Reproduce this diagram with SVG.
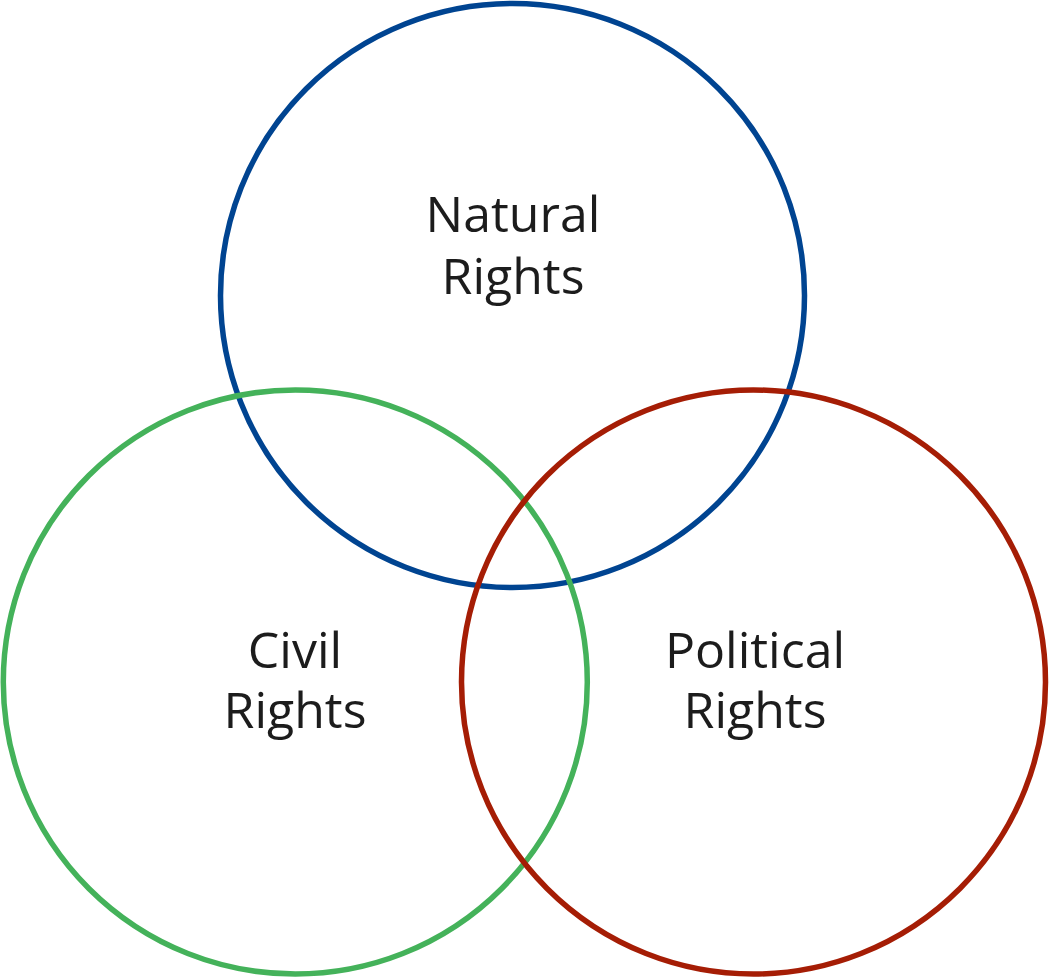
<svg xmlns="http://www.w3.org/2000/svg" width="1050" height="978" viewBox="0 0 1050 978">
<style>
.c{fill:none;stroke-width:5.5}
.t{font-family:"Open Sans","Noto Sans",sans-serif;font-size:50px;fill:#1c1c1c;text-anchor:middle}
</style>
<rect width="1050" height="978" fill="#fff"/>
<g id="natural">
<circle class="c" cx="512.5" cy="295.5" r="292" stroke="#004491"/>
<text class="t"><tspan x="513" y="232">Natural</tspan><tspan x="513" y="294">Rights</tspan></text>
</g>
<g id="civil">
<circle class="c" cx="295.3" cy="682" r="292" stroke="#44b25a"/>
<text class="t"><tspan x="295" y="668">Civil</tspan><tspan x="295" y="728">Rights</tspan></text>
</g>
<g id="political">
<circle class="c" cx="753.5" cy="682" r="292" stroke="#a51d05"/>
<text class="t"><tspan x="755" y="668">Political</tspan><tspan x="755" y="728">Rights</tspan></text>
</g>
<g id="connectors"></g>
</svg>
